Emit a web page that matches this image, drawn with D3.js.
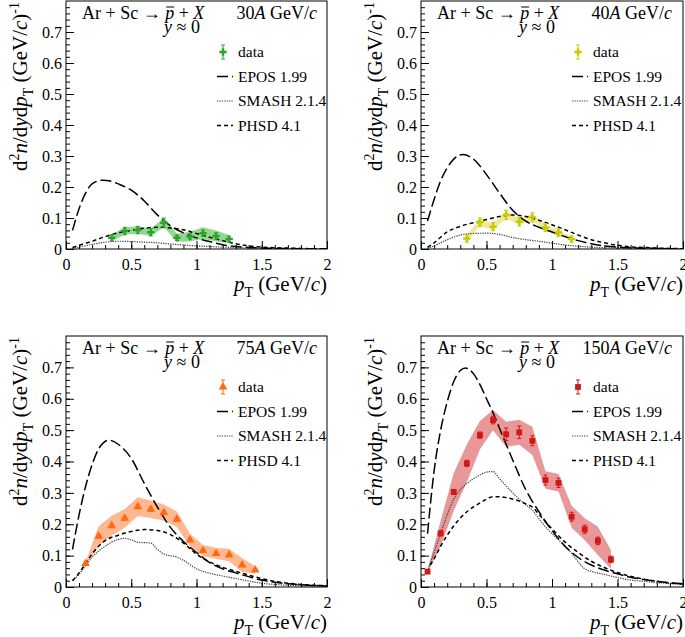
<!DOCTYPE html>
<html><head><meta charset="utf-8">
<script src="https://cdn.jsdelivr.net/npm/d3@7"></script>
<style>
body{margin:0;background:#fff;}
svg{display:block;}
text{font-family:'Liberation Serif','Times New Roman',serif !important;fill:#000;}
</style></head>
<body>
<svg id="c" width="685" height="637"></svg>
<script>
// ---------------- DATA ----------------
const energies = ["30", "40", "75", "150"];

const pt30   = [0.35,0.45,0.55,0.65,0.75,0.85,0.95,1.05,1.15,1.25];
const y30    = [0.036,0.058,0.061,0.054,0.085,0.036,0.040,0.051,0.042,0.032];
const stat30 = [0.010,0.012,0.012,0.012,0.015,0.008,0.008,0.010,0.010,0.009];
const sys30  = [0.011,0.012,0.012,0.012,0.015,0.013,0.016,0.019,0.018,0.013];

const pt40   = [0.35,0.45,0.55,0.65,0.75,0.85,0.95,1.05,1.15];
const y40    = [0.034,0.086,0.072,0.110,0.088,0.102,0.069,0.053,0.032];
const stat40 = [0.012,0.014,0.013,0.015,0.014,0.015,0.013,0.012,0.010];
const sys40  = [0.010,0.012,0.010,0.012,0.010,0.012,0.010,0.008,0.007];

const pt75   = [0.15,0.25,0.35,0.45,0.55,0.65,0.75,0.85,0.95,1.05,1.15,1.25,1.35,1.45];
const y75    = [0.075,0.162,0.195,0.219,0.256,0.248,0.237,0.216,0.150,0.116,0.107,0.102,0.070,0.054];
const stat75 = [0.004,0.005,0.005,0.006,0.006,0.006,0.006,0.006,0.005,0.005,0.005,0.005,0.004,0.004];
const sys75  = [0.005,0.032,0.032,0.030,0.030,0.028,0.026,0.025,0.020,0.018,0.018,0.020,0.022,0.012];

const pt150   = [0.05,0.15,0.25,0.35,0.45,0.55,0.65,0.75,0.85,0.95,1.05,1.15,1.25,1.35,1.45];
const y150    = [0.049,0.171,0.303,0.394,0.484,0.532,0.487,0.493,0.466,0.341,0.332,0.224,0.184,0.147,0.088];
const stat150 = [0.005,0.008,0.008,0.010,0.010,0.012,0.020,0.020,0.016,0.016,0.015,0.014,0.013,0.012,0.010];
const sys150  = [0.004,0.040,0.060,0.060,0.045,0.032,0.040,0.040,0.045,0.028,0.028,0.035,0.035,0.045,0.030];

// model curves: [pT, value]
const epos30 = [[0.05,0.06],[0.1,0.13],[0.15,0.18],[0.2,0.21],[0.28,0.222],[0.35,0.218],[0.4,0.21],[0.5,0.19],[0.6,0.155],[0.7,0.11],[0.8,0.075],[0.9,0.052],[1.0,0.036],[1.1,0.024],[1.2,0.014],[1.3,0.008],[1.4,0.005],[1.5,0.003],[1.6,0.002],[1.8,0.001],[2.0,0.0005]];
const smash30 = [[0.05,0.002],[0.1,0.006],[0.2,0.015],[0.3,0.022],[0.4,0.025],[0.5,0.024],[0.6,0.022],[0.7,0.02],[0.8,0.016],[0.9,0.013],[1.0,0.01],[1.1,0.008],[1.2,0.006],[1.3,0.004],[1.4,0.003],[1.5,0.002],[1.6,0.0015],[1.8,0.001],[2.0,0.0005]];
const phsd30 = [[0.05,0.005],[0.1,0.012],[0.2,0.025],[0.3,0.04],[0.4,0.052],[0.5,0.06],[0.6,0.067],[0.7,0.07],[0.8,0.068],[0.9,0.062],[1.0,0.05],[1.1,0.038],[1.2,0.027],[1.3,0.017],[1.4,0.01],[1.5,0.006],[1.6,0.004],[1.7,0.003],[1.8,0.002],[1.9,0.001],[2.0,0.001]];

const epos40 = [[0.05,0.09],[0.1,0.16],[0.15,0.22],[0.2,0.262],[0.25,0.29],[0.32,0.305],[0.4,0.29],[0.5,0.24],[0.6,0.18],[0.7,0.125],[0.8,0.09],[0.9,0.07],[1.0,0.055],[1.1,0.04],[1.2,0.027],[1.3,0.017],[1.4,0.01],[1.5,0.006],[1.6,0.004],[1.8,0.002],[2.0,0.001]];
const smash40 = [[0.05,0.002],[0.1,0.01],[0.2,0.03],[0.3,0.045],[0.4,0.05],[0.5,0.051],[0.6,0.047],[0.7,0.037],[0.8,0.03],[0.9,0.025],[1.0,0.019],[1.1,0.013],[1.2,0.009],[1.3,0.006],[1.4,0.004],[1.5,0.003],[1.7,0.002],[2.0,0.001]];
const phsd40 = [[0.05,0.005],[0.1,0.02],[0.2,0.055],[0.3,0.073],[0.4,0.085],[0.5,0.095],[0.6,0.105],[0.7,0.11],[0.8,0.105],[0.9,0.093],[1.0,0.078],[1.1,0.062],[1.2,0.045],[1.3,0.03],[1.4,0.02],[1.5,0.012],[1.6,0.007],[1.7,0.005],[1.8,0.003],[2.0,0.001]];

const epos75 = [[0.05,0.12],[0.1,0.23],[0.15,0.32],[0.2,0.39],[0.25,0.44],[0.33,0.468],[0.4,0.455],[0.5,0.41],[0.6,0.33],[0.7,0.255],[0.8,0.19],[0.9,0.145],[1.0,0.11],[1.1,0.078],[1.2,0.058],[1.3,0.045],[1.4,0.033],[1.5,0.022],[1.6,0.015],[1.7,0.01],[1.8,0.007],[2.0,0.003]];
const smash75 = [[0.05,0.02],[0.1,0.04],[0.15,0.068],[0.2,0.095],[0.25,0.115],[0.3,0.13],[0.35,0.143],[0.45,0.155],[0.5,0.15],[0.55,0.143],[0.65,0.14],[0.7,0.12],[0.75,0.105],[0.85,0.095],[0.9,0.085],[1.0,0.058],[1.1,0.044],[1.2,0.035],[1.3,0.027],[1.4,0.019],[1.5,0.012],[1.6,0.008],[1.8,0.004],[2.0,0.002]];
const phsd75 = [[0.05,0.02],[0.1,0.045],[0.15,0.075],[0.2,0.105],[0.25,0.13],[0.3,0.148],[0.4,0.165],[0.5,0.177],[0.6,0.183],[0.7,0.18],[0.8,0.167],[0.9,0.14],[1.0,0.105],[1.1,0.08],[1.2,0.063],[1.3,0.05],[1.4,0.038],[1.5,0.027],[1.6,0.018],[1.7,0.012],[1.8,0.008],[2.0,0.004]];

const epos150 = [[0.05,0.17],[0.1,0.37],[0.15,0.5],[0.2,0.59],[0.25,0.655],[0.3,0.69],[0.34,0.698],[0.4,0.68],[0.45,0.645],[0.5,0.6],[0.55,0.555],[0.6,0.505],[0.7,0.405],[0.8,0.31],[0.9,0.24],[1.0,0.18],[1.1,0.13],[1.2,0.094],[1.3,0.07],[1.4,0.054],[1.5,0.042],[1.6,0.031],[1.7,0.024],[1.8,0.018],[1.9,0.013],[2.0,0.01]];
const smash150 = [[0.05,0.05],[0.1,0.11],[0.15,0.17],[0.2,0.23],[0.25,0.28],[0.3,0.31],[0.35,0.33],[0.4,0.345],[0.45,0.357],[0.5,0.366],[0.55,0.368],[0.6,0.345],[0.65,0.322],[0.7,0.3],[0.75,0.28],[0.8,0.262],[0.85,0.245],[0.9,0.218],[0.95,0.192],[1.0,0.17],[1.05,0.15],[1.1,0.128],[1.15,0.107],[1.2,0.08],[1.25,0.058],[1.3,0.05],[1.4,0.04],[1.5,0.03],[1.6,0.022],[1.7,0.018],[1.8,0.014],[2.0,0.008]];
const phsd150 = [[0.07,0.07],[0.1,0.09],[0.15,0.13],[0.2,0.165],[0.25,0.195],[0.3,0.22],[0.35,0.24],[0.4,0.255],[0.45,0.268],[0.5,0.28],[0.55,0.288],[0.6,0.288],[0.65,0.285],[0.7,0.28],[0.75,0.274],[0.8,0.265],[0.85,0.255],[0.9,0.232],[1.0,0.185],[1.1,0.143],[1.2,0.11],[1.3,0.082],[1.4,0.062],[1.5,0.046],[1.6,0.034],[1.7,0.025],[1.8,0.018],[1.9,0.013],[2.0,0.01]];

const xTicks = [0, 0.5, 1, 1.5, 2];
const yTicks = [0, 0.1, 0.2, 0.3, 0.4, 0.5, 0.6, 0.7];
const legendLabels = ["data", "EPOS 1.99", "SMASH 2.1.4", "PHSD 4.1"];

// ---------------- LAYOUT / STYLE ----------------
const FONT = "'Liberation Serif','Times New Roman',serif";
const frames = [
  {x0:66, x1:327, y0:1,   y1:249},
  {x0:421,x1:683, y0:1,   y1:249},
  {x0:66, x1:327, y0:336, y1:587},
  {x0:421,x1:683, y0:336, y1:587}
];
const panelCfg = [
  {pt:pt30, y:y30, stat:stat30, sys:sys30, epos:epos30, smash:smash30, phsd:phsd30, color:"#2aa52a", band:"#93d793", sym:"cross"},
  {pt:pt40, y:y40, stat:stat40, sys:sys40, epos:epos40, smash:smash40, phsd:phsd40, color:"#c9c900", band:"#ecec9c", sym:"cross"},
  {pt:pt75, y:y75, stat:stat75, sys:sys75, epos:epos75, smash:smash75, phsd:phsd75, color:"#ff6a10", band:"#ffb892", sym:"tri"},
  {pt:pt150,y:y150,stat:stat150,sys:sys150,epos:epos150,smash:smash150,phsd:phsd150,color:"#d01818", band:"#e89898", sym:"sq"}
];

const svg = d3.select("#c").attr("font-family", FONT);

function rich(textSel, segs) {
  let cur = 0;
  textSel.attr("font-family", FONT);
  segs.forEach(s => {
    const ts = textSel.append("tspan").text(s.t);
    if (s.i) ts.style("font-style", "italic");
    const sh = s.sh || 0;
    if (sh !== cur) { ts.attr("dy", sh - cur); cur = sh; }
    if (s.fs) ts.style("font-size", s.fs + "px");
  });
  return textSel;
}

function symPath(kind) {
  if (kind === "cross") return d3.symbol(d3.symbolCross, 30)();
  if (kind === "tri") return d3.symbol(d3.symbolTriangle, 32)();
  return d3.symbol(d3.symbolSquare, 34)();
}

const SMASH_STYLE = {c:"#444", w:1.2, d:"1.3,1.1"};
const PHSD_STYLE  = {c:"#000", w:1.5, d:"4,3"};
const EPOS_STYLE  = {c:"#000", w:1.5, d:"11,4"};

frames.forEach((f, k) => {
  const c = panelCfg[k];
  const g = svg.append("g");
  const x = d3.scaleLinear().domain([0, 2]).range([f.x0, f.x1]);
  const y = d3.scaleLinear().domain([0, 0.8]).range([f.y1, f.y0]);

  const clipId = "clip" + k;
  svg.append("clipPath").attr("id", clipId).append("rect")
    .attr("x", f.x0).attr("y", f.y0).attr("width", f.x1 - f.x0).attr("height", f.y1 - f.y0);

  // systematic band
  const pts = c.pt.map((p, i) => ({p, v: c.y[i], st: c.stat[i], sy: c.sys[i]}));
  g.append("path").datum(pts)
    .attr("d", d3.area().x(d => x(d.p)).y0(d => y(d.v - d.sy)).y1(d => y(d.v + d.sy)))
    .attr("fill", c.band).attr("stroke", "none").attr("clip-path", `url(#${clipId})`);

  // model curves
  const line = d3.line().x(d => x(d[0])).y(d => y(d[1])).curve(d3.curveMonotoneX);
  const cg = g.append("g").attr("clip-path", `url(#${clipId})`).attr("fill", "none");
  [[c.smash, SMASH_STYLE], [c.phsd, PHSD_STYLE], [c.epos, EPOS_STYLE]].forEach(([data, st]) =>
    cg.append("path").attr("d", line(data)).attr("stroke", st.c).attr("stroke-width", st.w).attr("stroke-dasharray", st.d));

  // data: stat error bars + markers
  const dg = g.append("g");
  pts.forEach(d => {
    const px = x(d.p), y1 = y(d.v + d.st), y2 = y(d.v - d.st);
    dg.append("line").attr("x1", px).attr("x2", px).attr("y1", y1).attr("y2", y2).attr("stroke", c.color).attr("stroke-width", 1);
    [y1, y2].forEach(yy => dg.append("line").attr("x1", px - 2).attr("x2", px + 2).attr("y1", yy).attr("y2", yy).attr("stroke", c.color).attr("stroke-width", 1));
    dg.append("path").attr("d", symPath(c.sym)).attr("transform", `translate(${px},${y(d.v)})`).attr("fill", c.color);
  });

  // frame
  g.append("rect").attr("x", f.x0).attr("y", f.y0).attr("width", f.x1 - f.x0).attr("height", f.y1 - f.y0)
    .attr("fill", "none").attr("stroke", "#000").attr("stroke-width", 1);

  // axes
  const xa = g.append("g").attr("transform", `translate(0,${f.y1})`)
    .call(d3.axisBottom(x).tickValues(xTicks).tickSizeInner(-8).tickSizeOuter(0).tickPadding(10).tickFormat(d => String(d)));
  const xm = g.append("g").attr("transform", `translate(0,${f.y1})`)
    .call(d3.axisBottom(x).tickValues(d3.range(0, 21).map(i => i / 10)).tickSizeInner(-4).tickSizeOuter(0).tickFormat(""));
  const ya = g.append("g").attr("transform", `translate(${f.x0},0)`)
    .call(d3.axisLeft(y).tickValues(yTicks).tickSizeInner(-8).tickSizeOuter(0).tickPadding(4).tickFormat(d => d === 0 ? "0" : d3.format(".1f")(d)));
  const ym = g.append("g").attr("transform", `translate(${f.x0},0)`)
    .call(d3.axisLeft(y).tickValues(d3.range(0, 40).map(i => i / 50)).tickSizeInner(-4).tickSizeOuter(0).tickFormat(""));
  [xa, xm, ya, ym].forEach(a => {
    a.attr("font-family", FONT).attr("font-size", 16);
    a.select(".domain").remove();
    a.selectAll("line").attr("stroke", "#000");
    a.selectAll("text").attr("fill", "#000");
  });

  // axis titles
  rich(g.append("text").attr("x", f.x1).attr("y", f.y1 + 42).attr("text-anchor", "end").style("font-size", "21px"),
    [{t:"p", i:true}, {t:"T", sh:6, fs:14}, {t:" (GeV/", sh:0}, {t:"c", i:true}, {t:")"}]);
  rich(g.append("text").attr("transform", `translate(${f.x0 - 39},${f.y0 + 1}) rotate(-90)`).attr("text-anchor", "end").style("font-size", "21px"),
    [{t:"d"}, {t:"2", sh:-8, fs:14}, {t:"n", i:true, sh:0}, {t:"/d"}, {t:"y", i:true}, {t:"d"}, {t:"p", i:true}, {t:"T", sh:6, fs:14}, {t:" (GeV/", sh:0}, {t:"c", i:true}, {t:")"}, {t:"-1", sh:-8, fs:14}]);

  // annotations
  const tt = rich(g.append("text").attr("x", f.x0 + 16).attr("y", f.y0 + 18).style("font-size", "18px"),
    [{t:"Ar + Sc \u2192 "}, {t:"p", i:true}, {t:" + "}, {t:"X", i:true}]);
  const pIdx = "Ar + Sc \u2192 ".length;
  const ext = tt.node().getExtentOfChar(pIdx);
  g.append("line").attr("x1", ext.x + 1).attr("x2", ext.x + ext.width).attr("y1", f.y0 + 6).attr("y2", f.y0 + 6).attr("stroke", "#000").attr("stroke-width", 1);

  rich(g.append("text").attr("x", f.x0 + 251).attr("y", f.y0 + 18).attr("text-anchor", "end").style("font-size", "18px"),
    [{t:energies[k]}, {t:"A", i:true}, {t:" GeV/"}, {t:"c", i:true}]);
  rich(g.append("text").attr("x", f.x0 + 116).attr("y", f.y0 + 32).attr("text-anchor", "middle").style("font-size", "18px"),
    [{t:"y", i:true}, {t:" \u2248 0"}]);

  // legend
  const lx = f.x0 + 157, ly = f.y0 + 51;
  const lg = g.append("g");
  lg.append("line").attr("x1", lx).attr("x2", lx).attr("y1", ly - 7).attr("y2", ly + 7).attr("stroke", c.color);
  [ly - 7, ly + 7].forEach(yy => lg.append("line").attr("x1", lx - 2).attr("x2", lx + 2).attr("y1", yy).attr("y2", yy).attr("stroke", c.color));
  lg.append("path").attr("d", symPath(c.sym)).attr("transform", `translate(${lx},${ly})`).attr("fill", c.color);
  const styles = [null, EPOS_STYLE, SMASH_STYLE, PHSD_STYLE];
  legendLabels.forEach((lab, i) => {
    const yy = ly + i * 24.5;
    if (styles[i]) lg.append("line").attr("x1", lx - 6).attr("x2", lx + 10).attr("y1", yy).attr("y2", yy)
      .attr("stroke", styles[i].c).attr("stroke-width", styles[i].w).attr("stroke-dasharray", styles[i].d);
    lg.append("text").attr("x", lx + 15).attr("y", yy).attr("dy", "0.35em").attr("font-family", FONT).style("font-size", "15.5px").text(lab);
  });
});
</script>
</body></html>
